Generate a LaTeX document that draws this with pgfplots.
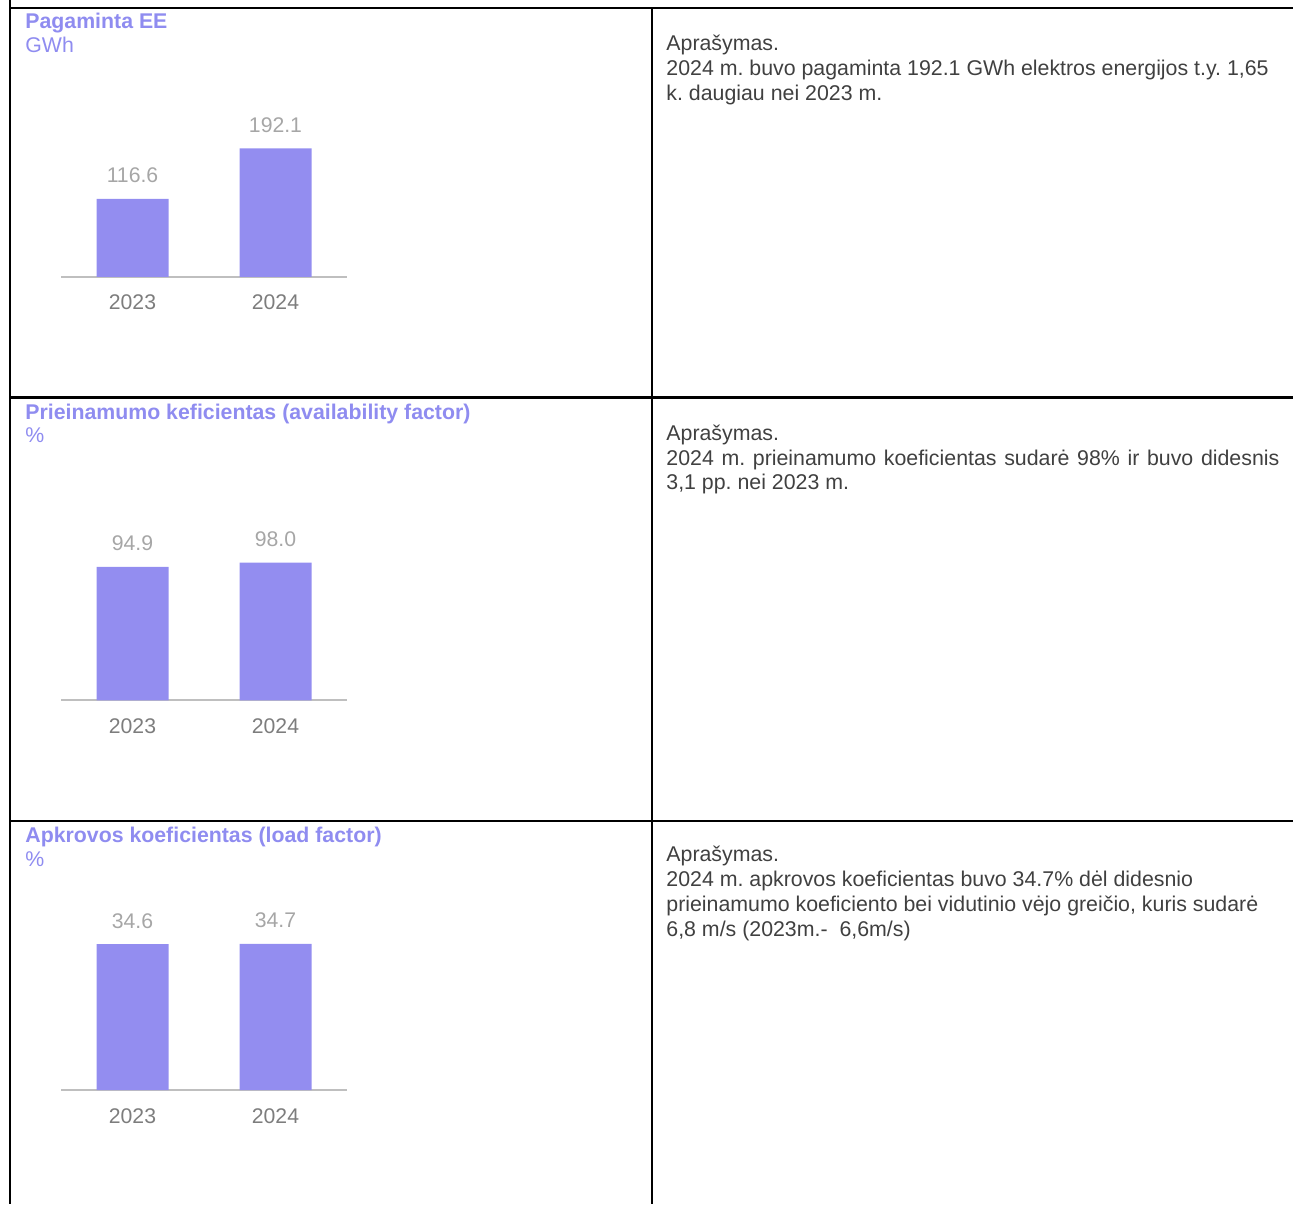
\documentclass[border=0pt]{standalone}
\usepackage{pgfplots}
\pgfplotsset{compat=1.18}
\usepackage{fontspec}
\setmainfont{Liberation Sans}
\definecolor{barc}{RGB}{147,141,240}
\definecolor{titc}{RGB}{143,140,240}
\definecolor{valc}{RGB}{166,166,166}
\definecolor{tickc}{RGB}{125,125,125}
\definecolor{txtc}{RGB}{64,64,64}
\definecolor{basec}{RGB}{191,191,191}

\pgfplotsset{
  mybar/.style={
    scale only axis, x=71.5pt, xmin=-0.5, xmax=1.5, ymin=0,
    enlargelimits=false,
    axis x line=bottom, axis y line=none,
    x axis line style={draw=basec, line width=1pt, -},
    xtick={0,1}, xticklabels={2023,2024}, major tick length=0pt,
    xtick style={draw=none},
    xticklabel style={font=\fontsize{10.6}{12}\selectfont, text=tickc, anchor=base, yshift=-16.5pt},
    ytick=\empty,
    clip=false,
    ybar, bar width=36pt,
    nodes near coords,
    every node near coord/.append style={font=\fontsize{10.6}{12}\selectfont, text=valc, anchor=base, yshift=8pt},
    /pgf/number format/fixed,
    /pgf/number format/fixed zerofill,
    /pgf/number format/precision=1,
    /pgf/number format/assume math mode=true,
    anchor=south west,
  }
}

\newcommand{\ttl}{\fontsize{10.65}{12}\selectfont\bfseries}
\newcommand{\unt}{\fontsize{10.65}{12}\selectfont}
\newcommand{\dsc}{\fontsize{10.67}{12}\selectfont\frenchspacing}

\begin{document}
\frenchspacing
\begin{tikzpicture}[x=0.5pt,y=0.5pt]
\path[use as bounding box] (0,0) rectangle (1293,1204);

% table rules
\draw[line width=1.3pt, black] (10,1204) -- (10,1196) -- (1293,1196);
\draw[line width=1.3pt, black] (652,1196) -- (652,0);
\draw[line width=1.3pt, black] (10,1196) -- (10,0);
\draw[line width=1.3pt, black] (10,806.5) -- (1293,806.5);
\draw[line width=1.3pt, black] (10,383) -- (1293,383);

% titles
\node[anchor=base west, inner sep=0pt, text=titc, font=\ttl] at (25,1175) {Pagaminta EE};
\node[anchor=base west, inner sep=0pt, text=titc, font=\unt] at (25,1151) {GWh};
\node[anchor=base west, inner sep=0pt, text=titc, font=\ttl] at (25,784.7) {Prieinamumo keficientas (availability factor)};
\node[anchor=base west, inner sep=0pt, text=titc, font=\unt] at (25,761.7) {\%};
\node[anchor=base west, inner sep=0pt, text=titc, font=\ttl] at (25,361.3) {Apkrovos koeficientas (load factor)};
\node[anchor=base west, inner sep=0pt, text=titc, font=\unt] at (25,337.3) {\%};

% descriptions
\node[anchor=base west, inner sep=0pt, text=txtc, font=\dsc] at (666,1153) {Aprašymas.};
\node[anchor=base west, inner sep=0pt, text=txtc, font=\dsc] at (666,1128) {2024 m. buvo pagaminta 192.1 GWh elektros energijos t.y. 1,65};
\node[anchor=base west, inner sep=0pt, text=txtc, font=\dsc] at (666,1103.5) {k. daugiau nei 2023 m.};

\node[anchor=base west, inner sep=0pt, text=txtc, font=\dsc] at (666,763) {Aprašymas.};
\node[anchor=base west, inner sep=0pt, text=txtc, font=\dsc] at (666,738.3) {\makebox[306.5pt][s]{2024 m. prieinamumo koeficientas sudarė 98\% ir buvo didesnis}};
\node[anchor=base west, inner sep=0pt, text=txtc, font=\dsc] at (666,714) {3,1 pp. nei 2023 m.};

\node[anchor=base west, inner sep=0pt, text=txtc, font=\dsc] at (666,343) {Aprašymas.};
\node[anchor=base west, inner sep=0pt, text=txtc, font=\dsc] at (666,318) {2024 m. apkrovos koeficientas buvo 34.7\% dėl didesnio};
\node[anchor=base west, inner sep=0pt, text=txtc, font=\dsc] at (666,293) {prieinamumo koeficiento bei vidutinio vėjo greičio, kuris sudarė};
\node[anchor=base west, inner sep=0pt, text=txtc, font=\dsc] at (666,268) {6,8 m/s (2023m.-\ \ 6,6m/s)};

% chart 1
\begin{axis}[mybar, y=0.335pt, ymax=192.1, at={(30.5pt,463.5pt)}]
\addplot[fill=barc, draw=none] coordinates {(0,116.6) (1,192.1)};
\end{axis}

% chart 2
\begin{axis}[mybar, y=0.703pt, ymax=98, at={(30.5pt,251.8pt)}]
\addplot[fill=barc, draw=none] coordinates {(0,94.9) (1,98.0)};
\end{axis}

% chart 3
\begin{axis}[mybar, y=2.107pt, ymax=34.7, at={(30.5pt,57pt)}]
\addplot[fill=barc, draw=none] coordinates {(0,34.6) (1,34.7)};
\end{axis}
\end{tikzpicture}
\end{document}
